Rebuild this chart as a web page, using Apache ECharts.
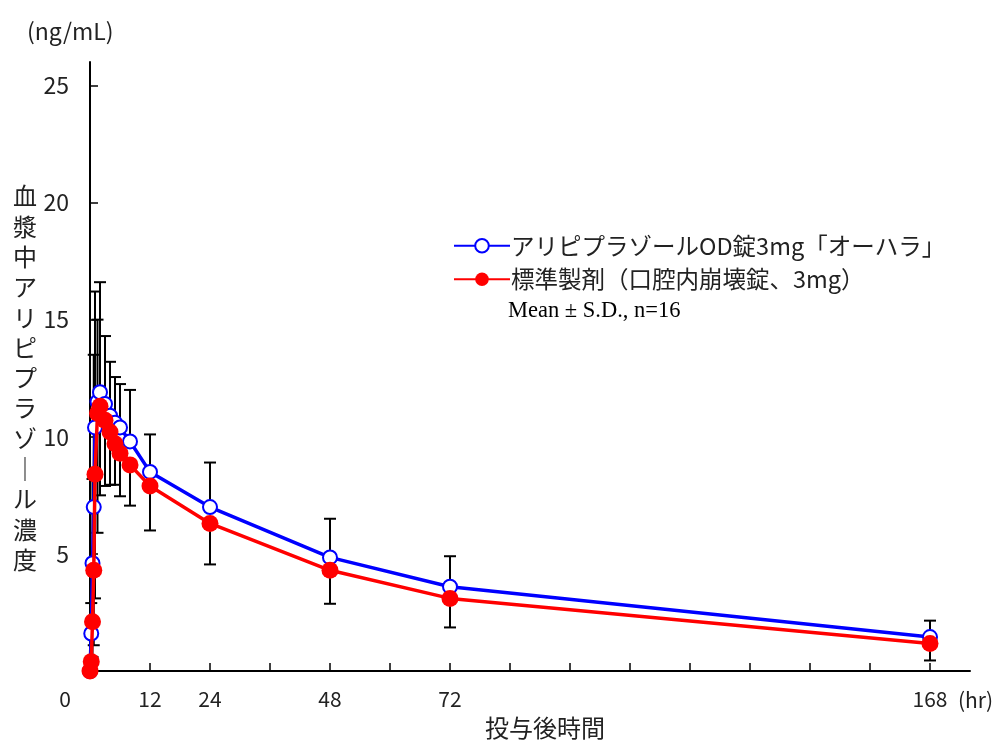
<!DOCTYPE html>
<html>
<head>
<meta charset="utf-8">
<script src="https://cdn.jsdelivr.net/npm/echarts@6/dist/echarts.min.js"></script>
<style>
html,body{margin:0;padding:0;background:#fff;}
#chart{width:1002px;height:745px;}
</style>
</head>
<body>
<div id="chart"></div>
<script>
// Sampling times (hr)
var times = [0, 0.25, 0.5, 0.75, 1, 1.5, 2, 3, 4, 5, 6, 8, 12, 24, 48, 72, 168];
// Test product: アリピプラゾールOD錠3mg「オーハラ」
var blueMean = [0, 1.6, 4.6, 7.0, 10.4, 11.5, 11.9, 11.4, 10.9, 10.6, 10.4, 9.8, 8.5, 7.0, 4.85, 3.6, 1.45];
var blueSD   = [0, 1.3, 3.6, 6.5, 5.8, 3.5, 4.7, 2.9, 2.3, 1.95, 1.85, 2.2, 1.6, 1.9, 1.65, 1.3, 0.7];
// Reference product: 標準製剤(口腔内崩壊錠、3mg)
var redMean = [0, 0.4, 2.1, 4.3, 8.4, 11.0, 11.3, 10.7, 10.2, 9.7, 9.3, 8.8, 7.9, 6.3, 4.3, 3.1, 1.17];
var redSD   = [0, 0.4, 1.5, 3.2, 5.3, 5.1, 3.8, 2.8, 2.25, 1.75, 1.84, 1.74, 1.9, 1.75, 1.43, 1.24, 0.72];

var seriesNames = ['アリピプラゾールOD錠3mg「オーハラ」', '標準製剤（口腔内崩壊錠、3mg）'];
var xTickValues = [12, 24, 36, 48, 60, 72, 84, 96, 108, 120, 132, 144, 156, 168];
var xLabelValues = [0, 12, 24, 48, 72, 168];
var yTickValues = [0, 5, 10, 15, 20, 25];
var yLabelValues = [5, 10, 15, 20, 25];
var yTitleChars = ['血','漿','中','ア','リ','ピ','プ','ラ','ゾ','｜','ル','濃','度'];

var JP = '"Noto Sans CJK JP", sans-serif';

function pairs(xs, ys) { return xs.map(function (x, i) { return [x, ys[i]]; }); }
function errData(xs, m, s, dir) { return xs.map(function (x, i) { return [x, m[i], s[i], dir]; }); }

function errRender(params, api) {
  var x = api.value(0), m = api.value(1), s = api.value(2), d = api.value(3);
  if (!s) return null;
  var p0 = api.coord([x, m]);
  var p1 = api.coord([x, m + d * s]);
  var hw = 6;
  var st = { stroke: '#000', lineWidth: 2 };
  return {
    type: 'group',
    children: [
      { type: 'line', shape: { x1: p0[0], y1: p0[1], x2: p1[0], y2: p1[1] }, style: st },
      { type: 'line', shape: { x1: p1[0] - hw, y1: p1[1], x2: p1[0] + hw, y2: p1[1] }, style: st }
    ]
  };
}

var chart = echarts.init(document.getElementById('chart'), null, { renderer: 'canvas' });
chart.setOption({
  animation: false,
  backgroundColor: '#fff',
  grid: { left: 90, top: 62, width: 880, height: 609, containLabel: false },
  xAxis: {
    type: 'value', min: 0, max: 176,
    axisLine: { show: true, onZero: false, lineStyle: { color: '#000', width: 2 } },
    axisTick: { show: true, inside: true, length: 8, lineStyle: { color: '#000', width: 1.5 }, customValues: xTickValues },
    splitLine: { show: false },
    axisLabel: {
      customValues: xLabelValues, margin: 18, color: '#222', fontSize: 21, fontFamily: JP,
      formatter: function (v) { return v === 0 ? '{z|0}' : String(v); },
      rich: { z: { padding: [0, 50, 0, 0], fontSize: 21, fontFamily: JP, color: '#222' } }
    }
  },
  yAxis: {
    type: 'value', min: 0, max: 26,
    axisLine: { show: true, onZero: false, lineStyle: { color: '#000', width: 2 } },
    axisTick: { show: true, inside: true, length: 8, lineStyle: { color: '#000', width: 1.5 }, customValues: yTickValues },
    splitLine: { show: false },
    axisLabel: { customValues: yLabelValues, margin: 21, color: '#222', fontSize: 23, fontFamily: JP }
  },
  legend: {
    left: 448, top: 229, orient: 'vertical', itemWidth: 56, itemHeight: 17, itemGap: 10,
    textStyle: { fontSize: 23.5, fontFamily: JP, color: '#222', padding: [0, 0, 0, -4] },
    data: seriesNames
  },
  graphic: [
    { type: 'text', left: 27, top: 20, style: { text: '(ng/mL)', fontSize: 23, fontFamily: JP, fill: '#222' } },
    { type: 'text', x: 25, y: 378, style: { text: yTitleChars.join('\n'), fontSize: 24, lineHeight: 30.3, fontFamily: JP, fill: '#222', align: 'center', verticalAlign: 'middle' } },
    { type: 'text', x: 545, y: 728, style: { text: '投与後時間', fontSize: 24, fontFamily: JP, fill: '#222', align: 'center', verticalAlign: 'middle' } },
    { type: 'text', x: 958, y: 700, style: { text: '(hr)', fontSize: 21, fontFamily: JP, fill: '#222', align: 'left', verticalAlign: 'middle' } },
    { type: 'text', x: 508, y: 311, style: { text: 'Mean ± S.D., n=16', fontSize: 22.5, fontFamily: '"Liberation Serif", serif', fill: '#000', align: 'left', verticalAlign: 'middle' } }
  ],
  series: [
    { type: 'custom', name: 'errBlue', renderItem: errRender, data: errData(times, blueMean, blueSD, 1), z: 1, silent: true },
    { type: 'custom', name: 'errRed', renderItem: errRender, data: errData(times, redMean, redSD, -1), z: 1, silent: true },
    {
      type: 'line', name: seriesNames[0], data: pairs(times, blueMean), z: 3,
      symbol: 'emptyCircle', symbolSize: 14, showAllSymbol: true,
      lineStyle: { color: '#0000ff', width: 3.5 },
      itemStyle: { color: '#0000ff', borderColor: '#0000ff', borderWidth: 2 }
    },
    {
      type: 'line', name: seriesNames[1], data: pairs(times, redMean), z: 4,
      symbol: 'circle', symbolSize: 17, showAllSymbol: true,
      lineStyle: { color: '#ff0000', width: 3.5 },
      itemStyle: { color: '#ff0000' }
    }
  ]
});
</script>
</body>
</html>
